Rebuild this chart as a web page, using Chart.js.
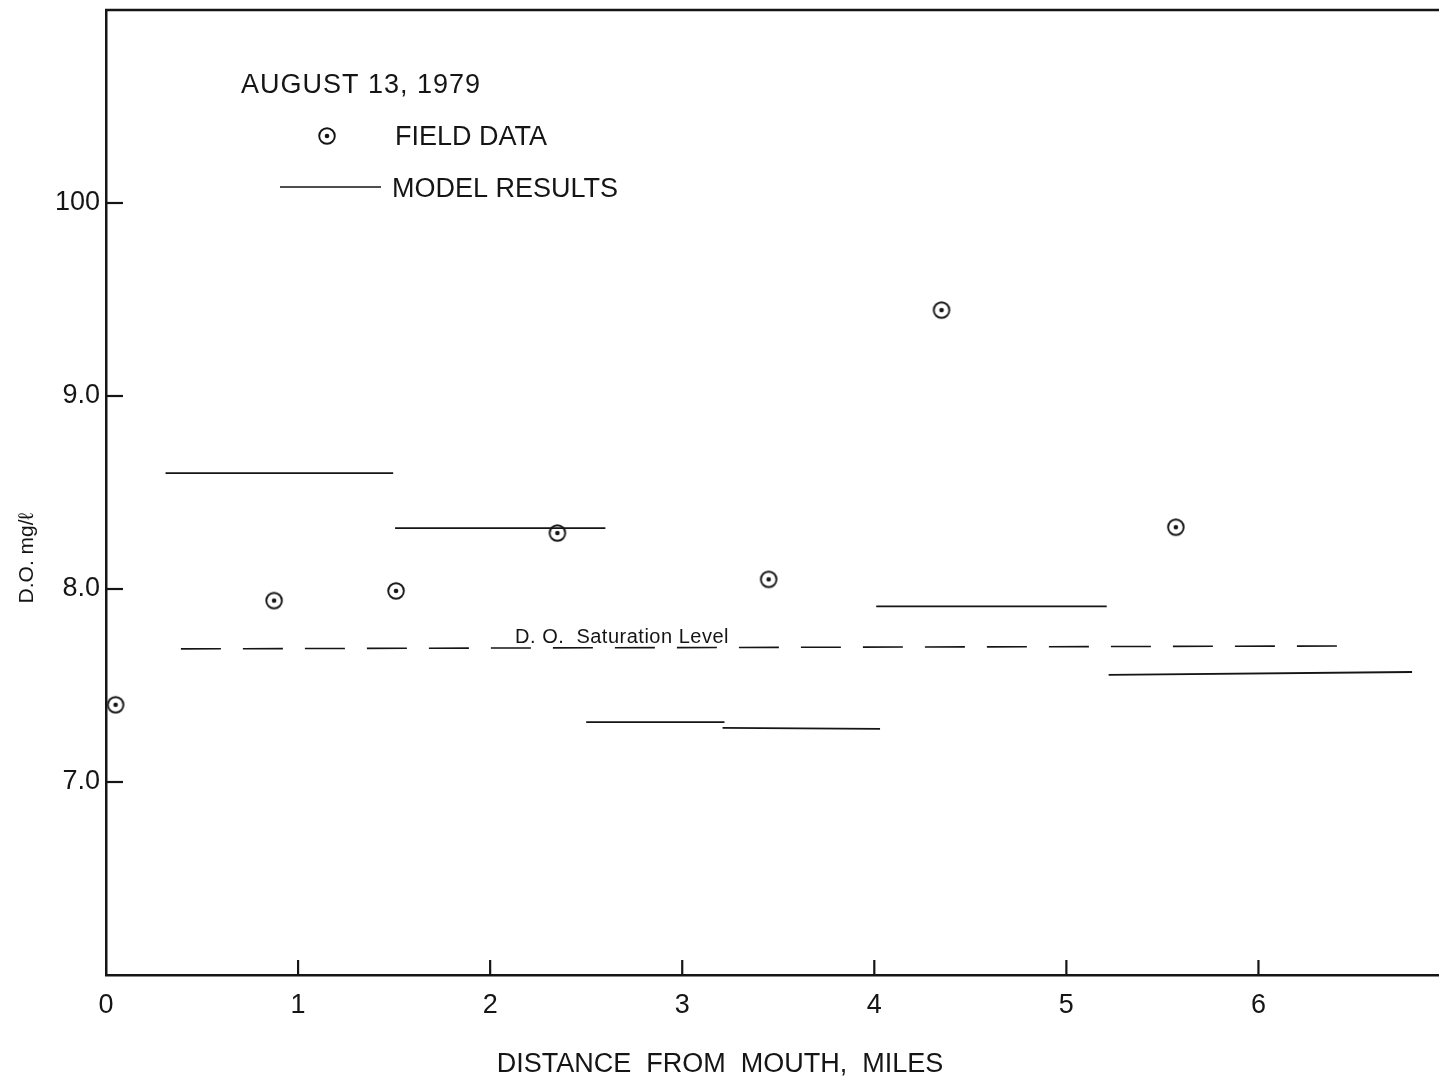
<!DOCTYPE html>
<html>
<head>
<meta charset="utf-8">
<script src="https://cdn.jsdelivr.net/npm/chart.js@4/dist/chart.umd.min.js"></script>
<style>
  html, body { margin: 0; padding: 0; background: #fff; }
  #wrap { width: 1439px; height: 1079px; position: relative; }
</style>
</head>
<body>
<div id="wrap"><canvas id="c" width="1439" height="1079"></canvas></div>
<script>
// ---- Data ----
const fieldX  = [0.05, 0.875, 1.51, 2.35, 3.45, 4.35, 5.57];
const fieldDO = [7.40, 7.94, 7.99, 8.29, 8.05, 9.445, 8.32];

const modelStart   = [0.31, 1.505, 2.50, 3.21, 4.01, 5.22];
const modelEnd     = [1.495, 2.60, 3.22, 4.03, 5.21, 6.80];
const modelStartDO = [8.60, 8.315, 7.31, 7.28, 7.91, 7.555];
const modelEndDO   = [8.60, 8.315, 7.31, 7.275, 7.91, 7.57];

const satX  = [0.39, 6.52];
const satDO = [7.69, 7.705];

const xTicks = [0, 1, 2, 3, 4, 5, 6];
const xTickLabels = ['0', '1', '2', '3', '4', '5', '6'];
const yTicks = [7, 8, 9, 10];
const yTickLabels = ['7.0', '8.0', '9.0', '100'];

// ---- Build datasets ----
const INK = '#151515';
const FONT = '"Liberation Sans", Arial, sans-serif';

function makeMarker() {
  const s = 24, cv = document.createElement('canvas');
  cv.width = s; cv.height = s;
  const g = cv.getContext('2d');
  g.strokeStyle = INK; g.lineWidth = 1.9;
  g.beginPath(); g.arc(s/2, s/2, 7.8, 0, Math.PI*2); g.stroke();
  g.fillStyle = INK;
  g.beginPath(); g.arc(s/2, s/2, 2.3, 0, Math.PI*2); g.fill();
  return cv;
}
const marker = makeMarker();

const modelData = [];
modelStart.forEach((x0, i) => {
  modelData.push({x: x0, y: modelStartDO[i]});
  modelData.push({x: modelEnd[i], y: modelEndDO[i]});
  modelData.push({x: modelEnd[i], y: null});
});

const fieldData = fieldX.map((x, i) => ({x, y: fieldDO[i]}));
const satData = satX.map((x, i) => ({x, y: satDO[i]}));

// ---- Plugin: frame top line, inward ticks, texts ----
const decor = {
  id: 'decor',
  afterDraw(chart) {
    const {ctx, chartArea: a, scales: {x, y}} = chart;
    ctx.save();
    ctx.strokeStyle = INK;
    // top frame line
    ctx.lineWidth = 2.5;
    ctx.beginPath(); ctx.moveTo(a.left - 1, a.top); ctx.lineTo(a.right, a.top); ctx.stroke();
    // inward y ticks
    ctx.lineWidth = 2.2;
    yTicks.forEach(v => {
      const py = y.getPixelForValue(v);
      ctx.beginPath(); ctx.moveTo(a.left, py); ctx.lineTo(a.left + 17, py); ctx.stroke();
    });
    // inward x ticks
    xTicks.forEach(v => {
      if (v === 0) return;
      const px = x.getPixelForValue(v);
      ctx.beginPath(); ctx.moveTo(px, a.bottom); ctx.lineTo(px, a.bottom - 15); ctx.stroke();
    });

    ctx.fillStyle = INK;
    ctx.textBaseline = 'alphabetic';
    // legend / title block
    ctx.font = '27px ' + FONT;
    ctx.textAlign = 'left';
    ctx.letterSpacing = '1px';
    ctx.fillText('AUGUST 13, 1979', 241, 93);
    ctx.letterSpacing = '0px';
    ctx.fillText('FIELD DATA', 395, 145);
    ctx.fillText('MODEL RESULTS', 392, 197);
    ctx.drawImage(marker, 327 - 12, 136 - 12);
    ctx.lineWidth = 1.6;
    ctx.beginPath(); ctx.moveTo(280, 187); ctx.lineTo(381, 187); ctx.stroke();

    // saturation label
    ctx.letterSpacing = '0.5px';
    ctx.font = '20px ' + FONT;
    ctx.fillText('D. O.  Saturation Level', x.getPixelForValue(2.13), y.getPixelForValue(7.695) - 5);

    // axis titles
    ctx.letterSpacing = '0px';
    ctx.font = '27px ' + FONT;
    ctx.textAlign = 'center';
    ctx.fillText('DISTANCE  FROM  MOUTH,  MILES', 720, 1072);

    ctx.save();
    ctx.translate(33, 558);
    ctx.rotate(-Math.PI / 2);
    ctx.font = '21px ' + FONT;
    ctx.fillText('D.O. mg/\u2113', 0, 0);
    ctx.restore();

    ctx.restore();
  }
};

new Chart(document.getElementById('c'), {
  type: 'scatter',
  data: {
    datasets: [
      {
        label: 'D.O. Saturation Level',
        type: 'line',
        data: satData,
        borderColor: INK,
        borderWidth: 1.6,
        borderDash: [40, 22],
        pointRadius: 0,
        fill: false
      },
      {
        label: 'MODEL RESULTS',
        type: 'line',
        data: modelData,
        borderColor: INK,
        borderWidth: 1.8,
        pointRadius: 0,
        spanGaps: false,
        fill: false
      },
      {
        label: 'FIELD DATA',
        data: fieldData,
        pointStyle: marker,
        pointRadius: 9,
        clip: false
      }
    ]
  },
  options: {
    responsive: false,
    animation: false,
    devicePixelRatio: 1,
    layout: { autoPadding: false, padding: { top: 10, left: 0, right: 0, bottom: 0 } },
    plugins: { legend: { display: false }, tooltip: { enabled: false } },
    scales: {
      x: {
        type: 'linear',
        min: 0, max: 6.94,
        afterBuildTicks: s => { s.ticks = xTicks.map(v => ({value: v})); },
        afterFit: s => { s.height = 104; s.paddingLeft = 0; s.paddingRight = 0; },
        grid: { display: true, drawOnChartArea: false, drawTicks: false },
        border: { display: true, color: INK, width: 2.5 },
        ticks: {
          color: INK,
          padding: 14,
          font: { family: FONT, size: 27 },
          maxRotation: 0,
          callback: (v) => { const i = xTicks.indexOf(v); return i >= 0 ? xTickLabels[i] : ''; }
        }
      },
      y: {
        type: 'linear',
        min: 6.0, max: 11.0,
        afterBuildTicks: s => { s.ticks = yTicks.map(v => ({value: v})); },
        afterFit: s => { s.width = 106; s.paddingTop = 0; s.paddingBottom = 0; },
        grid: { display: true, drawOnChartArea: false, drawTicks: false },
        border: { display: true, color: INK, width: 2.5 },
        ticks: {
          color: INK,
          padding: 6,
          font: { family: FONT, size: 27 },
          callback: (v) => { const i = yTicks.indexOf(v); return i >= 0 ? yTickLabels[i] : ''; }
        }
      }
    }
  },
  plugins: [decor]
});
</script>
</body>
</html>
